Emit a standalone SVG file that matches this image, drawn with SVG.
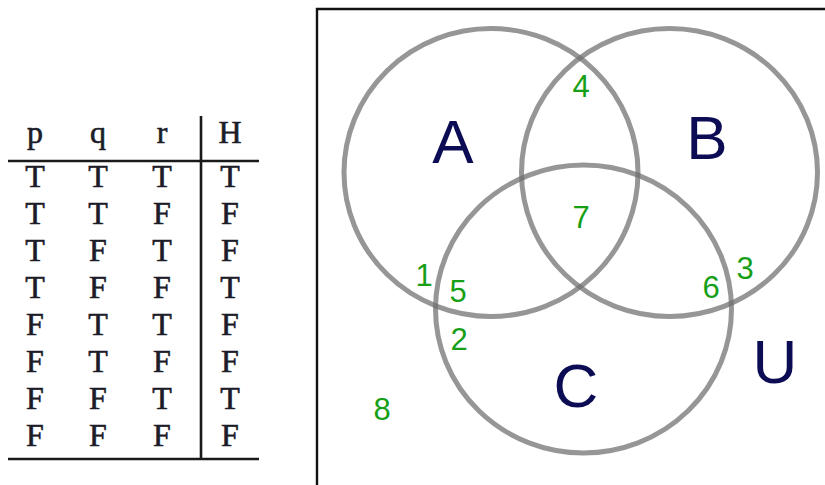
<svg xmlns="http://www.w3.org/2000/svg" width="825" height="485" viewBox="0 0 825 485">
<style>
.tt{font-family:"Liberation Serif","DejaVu Serif",serif;font-size:32px;fill:#1c1c28;stroke:#1c1c28;stroke-width:0.6;text-anchor:middle}
.rule{stroke:#1a1a1a;stroke-width:2.6;fill:none}
.set{fill:none;stroke:#6e6e6e;stroke-opacity:0.72;stroke-width:5}
.lab{font-family:"Liberation Sans",Arial,sans-serif;font-size:62px;fill:#0c0c55;text-anchor:middle}
.num{font-family:"Liberation Sans",Arial,sans-serif;font-size:31px;fill:#17a017;text-anchor:middle}
</style>
<rect width="825" height="485" fill="#fff"/>
<g id="truth-table">
<line class="rule" x1="8" y1="161" x2="259" y2="161"/>
<line class="rule" x1="8" y1="459" x2="259" y2="459"/>
<line class="rule" x1="201" y1="116" x2="201" y2="460"/>
<text class="tt" x="35" y="143">p</text><text class="tt" x="98" y="143">q</text><text class="tt" x="162" y="143">r</text><text class="tt" x="230" y="143">H</text>
<text class="tt" x="35" y="187">T</text><text class="tt" x="98" y="187">T</text><text class="tt" x="162" y="187">T</text><text class="tt" x="230" y="187">T</text>
<text class="tt" x="35" y="224">T</text><text class="tt" x="98" y="224">T</text><text class="tt" x="162" y="224">F</text><text class="tt" x="230" y="224">F</text>
<text class="tt" x="35" y="261">T</text><text class="tt" x="98" y="261">F</text><text class="tt" x="162" y="261">T</text><text class="tt" x="230" y="261">F</text>
<text class="tt" x="35" y="298">T</text><text class="tt" x="98" y="298">F</text><text class="tt" x="162" y="298">F</text><text class="tt" x="230" y="298">T</text>
<text class="tt" x="35" y="335">F</text><text class="tt" x="98" y="335">T</text><text class="tt" x="162" y="335">T</text><text class="tt" x="230" y="335">F</text>
<text class="tt" x="35" y="372">F</text><text class="tt" x="98" y="372">T</text><text class="tt" x="162" y="372">F</text><text class="tt" x="230" y="372">F</text>
<text class="tt" x="35" y="409">F</text><text class="tt" x="98" y="409">F</text><text class="tt" x="162" y="409">T</text><text class="tt" x="230" y="409">T</text>
<text class="tt" x="35" y="446">F</text><text class="tt" x="98" y="446">F</text><text class="tt" x="162" y="446">F</text><text class="tt" x="230" y="446">F</text>
</g>
<g id="universe">
<path d="M317 486 V9 H826" fill="none" stroke="#111" stroke-width="2.4"/>
<text class="lab" x="775" y="383">U</text>
</g>
<g id="set-A">
<ellipse class="set" cx="491" cy="172.5" rx="147" ry="144"/>
<text class="lab" x="453" y="163">A</text>
</g>
<g id="set-B">
<ellipse class="set" cx="669.5" cy="172.5" rx="148" ry="144"/>
<text class="lab" x="707" y="159">B</text>
</g>
<g id="set-C">
<ellipse class="set" cx="583.5" cy="309" rx="148" ry="144"/>
<text class="lab" x="576" y="407">C</text>
</g>
<g id="regions">
<text class="num" x="581" y="97">4</text>
<text class="num" x="581" y="228">7</text>
<text class="num" x="424" y="286">1</text>
<text class="num" x="458" y="302">5</text>
<text class="num" x="711" y="298">6</text>
<text class="num" x="745" y="279">3</text>
<text class="num" x="459" y="350">2</text>
<text class="num" x="382" y="420">8</text>
</g>
</svg>
